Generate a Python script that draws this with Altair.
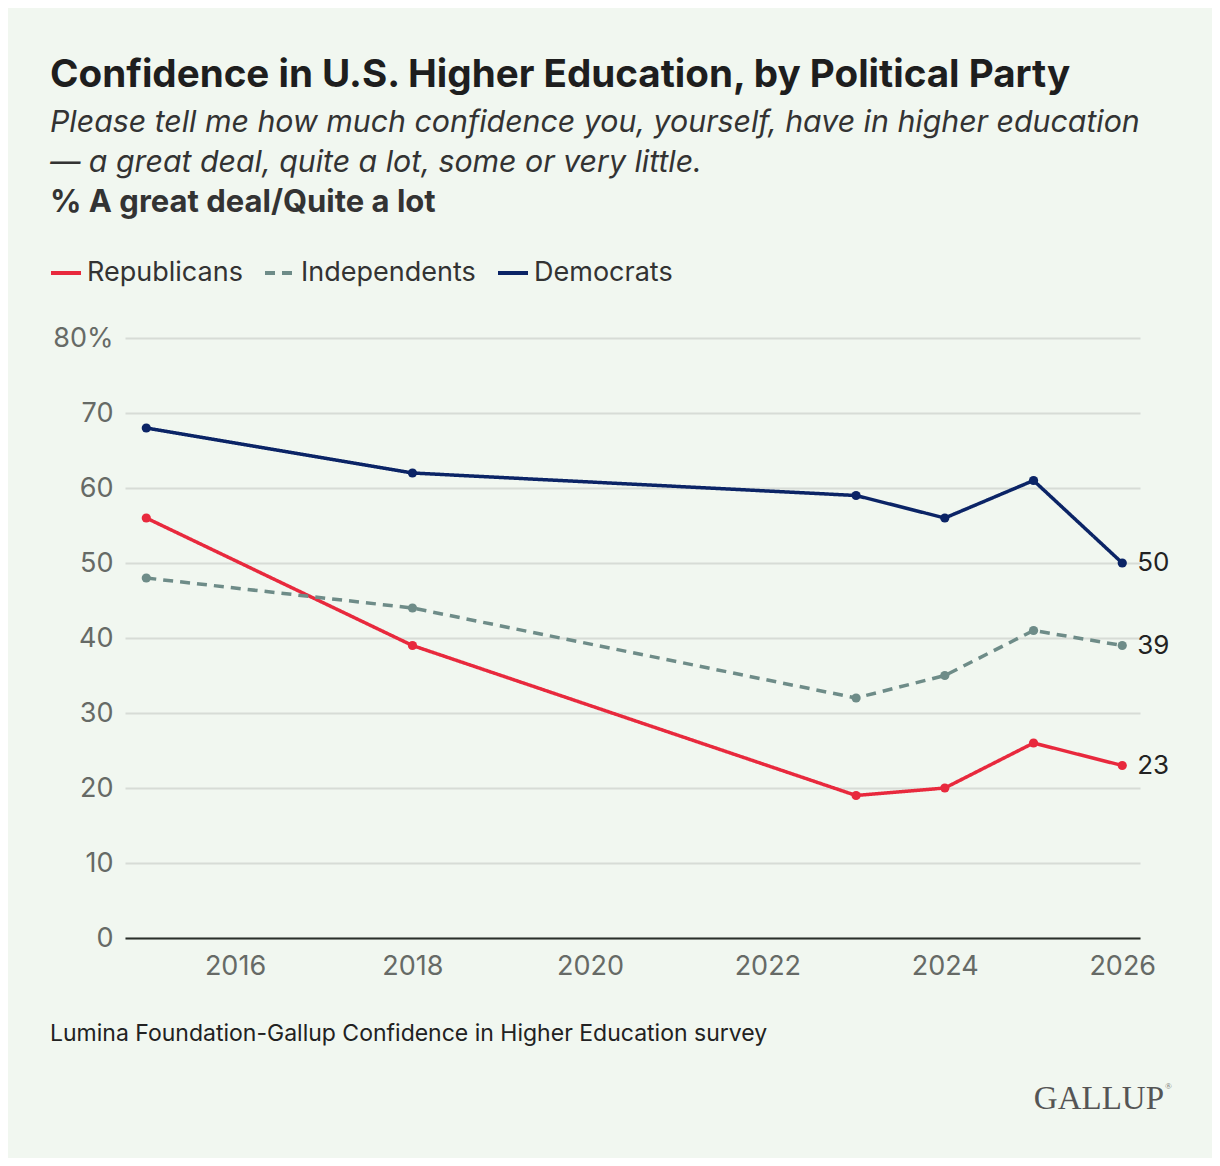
import altair as alt
import pandas as pd

years = [2015, 2018, 2023, 2024, 2025, 2026]
democrats = [68, 62, 59, 56, 61, 50]
republicans = [56, 39, 19, 20, 26, 23]
independents = [48, 44, 32, 35, 41, 39]
parties = ["Republicans", "Independents", "Democrats"]
colors = ["#e8293d", "#6e8c88", "#0b2466"]
dashes = [[1, 0], [10, 7], [1, 0]]
x_ticks = [2016, 2018, 2020, 2022, 2024, 2026]
y_ticks = [0, 10, 20, 30, 40, 50, 60, 70, 80]

title_text = "Confidence in U.S. Higher Education, by Political Party"
subtitle_lines = [
    "Please tell me how much confidence you, yourself, have in higher education",
    "\u2014 a great deal, quite a lot, some or very little.",
]
measure_text = "% A great deal/Quite a lot"
source_text = "Lumina Foundation-Gallup Confidence in Higher Education survey"
brand_text = "GALLUP"
brand_mark = "\u00ae"

rows = []
for name, vals in zip(["Democrats", "Republicans", "Independents"], [democrats, republicans, independents]):
    for y, v in zip(years, vals):
        rows.append({"year": y, "value": v, "party": name})
df = pd.DataFrame(rows)

FONT = "Inter"

legend = alt.Legend(
    title=None, orient="none", legendX=-76, legendY=-82, direction="horizontal",
    symbolType="stroke", symbolStrokeWidth=4, symbolSize=900,
    labelFontSize=27, labelColor="#333333", labelFont=FONT, labelOffset=4,
    labelLimit=400, columnPadding=14, symbolOpacity=1,
)

x_enc = alt.X(
    "year:Q",
    scale=alt.Scale(domain=[2014.76, 2026.2], nice=False, zero=False),
    axis=alt.Axis(values=x_ticks, format="d", title=None, grid=False, ticks=False,
                  domainColor="#2a302b", domainWidth=2, labelFontSize=27,
                  labelColor="#666a66", labelPadding=15, labelFont=FONT),
)
y_enc = alt.Y(
    "value:Q",
    scale=alt.Scale(domain=[0, 80], nice=False),
    axis=alt.Axis(values=y_ticks, labelExpr="datum.value == 80 ? '80%' : datum.label",
                  domain=False, ticks=False, gridColor="#d7dcd6", gridWidth=2,
                  labelPadding=12, title=None, labelFontSize=27,
                  labelColor="#666a66", labelFont=FONT),
)
color_enc = alt.Color("party:N", scale=alt.Scale(domain=parties, range=colors), legend=legend)

lines = alt.Chart(df).mark_line(strokeWidth=3.5).encode(
    x=x_enc, y=y_enc, color=color_enc,
    strokeDash=alt.StrokeDash("party:N", scale=alt.Scale(domain=parties, range=dashes), legend=legend),
)
points = alt.Chart(df).mark_circle(size=85, opacity=1).encode(x=x_enc, y=y_enc, color=color_enc)
end_labels = alt.Chart(df).transform_filter(alt.datum.year == 2026).mark_text(
    align="left", baseline="middle", dx=15, fontSize=26, color="#222222", font=FONT
).encode(x=x_enc, y=y_enc, text="value:Q")


def note(text, x, y, size, weight="normal", style="normal", color="#222222", align="left", font=FONT):
    return alt.Chart(pd.DataFrame({"t": [text]})).mark_text(
        align=align, baseline="alphabetic", fontSize=size, fontWeight=weight,
        fontStyle=style, color=color, font=font,
    ).encode(x=alt.value(x), y=alt.value(y), text="t:N")


notes = [
    note(title_text, -75, -251, 38.6, weight="bold", color="#1e1e1e"),
    note(subtitle_lines[0], -75, -206, 30.3, style="italic", color="#333333"),
    note(subtitle_lines[1], -75, -166, 30.3, style="italic", color="#333333"),
    note(measure_text, -75, -126, 31, weight="bold", color="#333333"),
    note(source_text, -75, 703, 23, color="#222222"),
    note(brand_text, 1039, 771, 33, color="#555555", align="right", font="Liberation Serif"),
    note(brand_mark, 1040, 751, 9, color="#777777", font="Liberation Serif"),
]

chart = alt.layer(lines, points, end_labels, *notes).properties(
    width=1015, height=600,
    padding={"left": 117, "top": 330, "right": 72, "bottom": 220},
    autosize=alt.AutoSizeParams(type="none"),
    background="#f1f7f0",
).configure_view(stroke=None)

chart.save("out.html", embed_options={"renderer": "svg", "actions": False})
